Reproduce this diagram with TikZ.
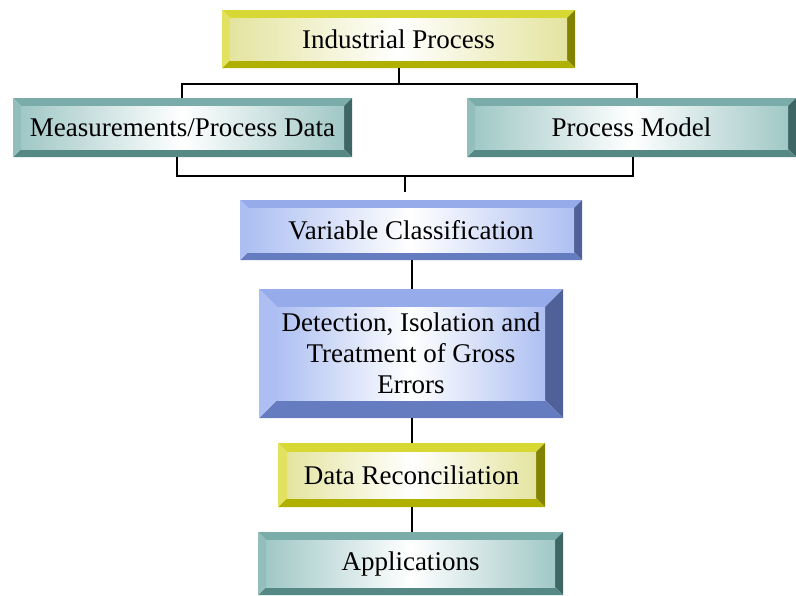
\documentclass[tikz,border=0pt]{standalone}
\usepackage{fontspec}
\setmainfont{Liberation Serif}
\usetikzlibrary{calc}

\definecolor{ylTop}{RGB}{216,216,52}
\definecolor{ylLeft}{RGB}{226,226,96}
\definecolor{ylBot}{RGB}{176,176,0}
\definecolor{ylRight}{RGB}{130,130,0}
\definecolor{ylTint}{RGB}{228,228,160}
\definecolor{tlTop}{RGB}{122,172,170}
\definecolor{tlLeft}{RGB}{146,190,188}
\definecolor{tlBot}{RGB}{86,136,134}
\definecolor{tlRight}{RGB}{62,102,100}
\definecolor{tlTint}{RGB}{160,200,198}
\definecolor{blTop}{RGB}{150,172,234}
\definecolor{blLeft}{RGB}{172,190,242}
\definecolor{blBot}{RGB}{102,124,192}
\definecolor{blRight}{RGB}{80,96,152}
\definecolor{blTint}{RGB}{174,192,242}

% bevelled frame: top, left, bottom, right, tint, bevel width
\newcommand\bevelfill[6]{%
  \coordinate (bbSW) at (path picture bounding box.south west);
  \coordinate (bbNE) at (path picture bounding box.north east);
  \coordinate (bbNW) at (bbSW |- bbNE);
  \coordinate (bbSE) at (bbNE |- bbSW);
  \fill[#1] (bbNW) -- (bbNE) -- ([shift={(-#6pt,-#6pt)}]bbNE) -- ([shift={(#6pt,-#6pt)}]bbNW) -- cycle;
  \fill[#4] (bbNE) -- (bbSE) -- ([shift={(-#6pt,#6pt)}]bbSE) -- ([shift={(-#6pt,-#6pt)}]bbNE) -- cycle;
  \fill[#3] (bbSE) -- (bbSW) -- ([shift={(#6pt,#6pt)}]bbSW) -- ([shift={(-#6pt,#6pt)}]bbSE) -- cycle;
  \fill[#2] (bbSW) -- (bbNW) -- ([shift={(#6pt,-#6pt)}]bbNW) -- ([shift={(#6pt,#6pt)}]bbSW) -- cycle;
  \shade[left color=#5, right color=#5, middle color=white]
    ([shift={(#6pt,#6pt)}]bbSW) rectangle ([shift={(-#6pt,-#6pt)}]bbNE);
}

\tikzset{
  panel/.style={rectangle, inner sep=0pt, align=center,
    font=\fontsize{27}{31}\selectfont},
  yellowpanel/.style={panel, path picture={\bevelfill{ylTop}{ylLeft}{ylBot}{ylRight}{ylTint}{#1}}},
  tealpanel/.style={panel, path picture={\bevelfill{tlTop}{tlLeft}{tlBot}{tlRight}{tlTint}{#1}}},
  bluepanel/.style={panel, path picture={\bevelfill{blTop}{blLeft}{blBot}{blRight}{blTint}{#1}}},
  link/.style={draw=black, line width=2pt}
}

\begin{document}
\begin{tikzpicture}[x=1pt,y=-1pt]
\useasboundingbox (0,0) rectangle (796,595);

\node[yellowpanel=8, minimum width=353pt, minimum height=58pt] (ind) at (398.5,39) {Industrial Process};
\node[tealpanel=8, minimum width=339pt, minimum height=59pt] (meas) at (182.5,127.5) {Measurements/Process Data};
\node[tealpanel=8, minimum width=329pt, minimum height=59pt] (model) at (631.5,127.5) {Process Model};
\node[bluepanel=8, minimum width=342pt, minimum height=60pt] (varc) at (411,230) {Variable Classification};
\node[bluepanel=18, minimum width=304pt, minimum height=129pt] (det) at (411,353.5)
  {Detection, Isolation and\\Treatment of Gross\\Errors};
\node[yellowpanel=9, minimum width=267pt, minimum height=64pt] (rec) at (411.5,475) {Data Reconciliation};
\node[tealpanel=8, minimum width=305pt, minimum height=63pt] (app) at (410.5,563.5) {Applications};

% splitting and joining lines
\draw[link] (ind.south) -- ++(0,16);
\draw[link] ([xshift=-0.5pt]meas.north) -- ++(0,-14) -| ([xshift=5.5pt]model.north);
\draw[link] ([xshift=-5.5pt]meas.south) -- ++(0,19) coordinate (bus) -| ([xshift=1.5pt]model.south);
\draw[link] (bus -| 405,0) -- ([xshift=-6pt,yshift=8pt]varc.north);

\draw[link] ([xshift=1pt]varc.south) -- ([xshift=1pt]det.north);
\draw[link] ([xshift=1pt]det.south) -- ([xshift=0.5pt]rec.north);
\draw[link] ([xshift=0.5pt]rec.south) -- ([xshift=1.5pt]app.north);
\end{tikzpicture}
\end{document}
